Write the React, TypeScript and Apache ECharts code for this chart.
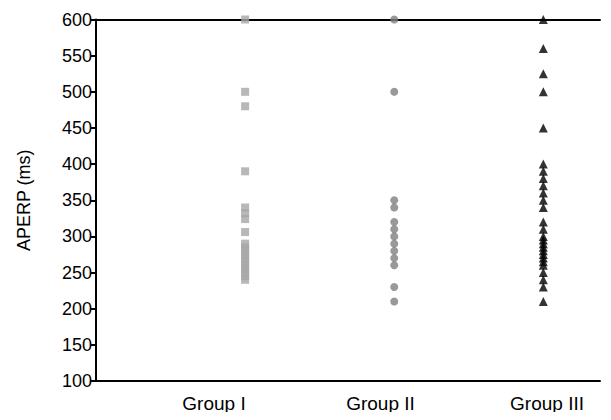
import React, { useEffect, useRef } from "react";
import * as echarts from "echarts";

const categories = ["Group I", "Group II", "Group III"];
const groupPositions = [1, 2, 3];
const groupI = [600, 500, 480, 390, 340, 332, 324, 306, 290, 285, 280, 275, 270, 265, 260, 255, 250, 245, 240];
const groupII = [600, 500, 350, 340, 320, 310, 300, 290, 280, 270, 260, 230, 210];
const groupIII = [600, 560, 525, 500, 450, 400, 390, 380, 370, 360, 350, 340, 320, 310, 300, 295, 290, 285, 280, 275, 270, 265, 260, 250, 240, 230, 210];
const yTicks = { min: 100, max: 600, interval: 50 };

const FONT = "'Liberation Sans', Arial, Helvetica, sans-serif";

export default function App() {
  const ref = useRef<HTMLDivElement>(null);
  useEffect(() => {
    if (!ref.current) return;
    const chart = echarts.init(ref.current, undefined, { renderer: "svg" });
    const lineStyle = { color: "#000", width: 2 };
    const mk = (vals: number[], x: number) => vals.map((v) => [x, v]);
    chart.setOption({
      animation: false,
      backgroundColor: "#fff",
      textStyle: { fontFamily: FONT },
      grid: [
        { left: 96, right: 11, top: 19.5, bottom: 39 },
        { left: 214, right: 64, top: 19.5, bottom: 39 },
      ],
      xAxis: [
        {
          type: "value", gridIndex: 0, position: "bottom", min: 0, max: 3.38,
          axisLine: { show: true, lineStyle }, axisTick: { show: false },
          axisLabel: { show: false }, splitLine: { show: false },
        },
        {
          type: "value", gridIndex: 0, position: "top", min: 0, max: 3.38,
          axisLine: { show: true, lineStyle }, axisTick: { show: false },
          axisLabel: { show: false }, splitLine: { show: false },
        },
        {
          type: "category", gridIndex: 1, data: categories, boundaryGap: false,
          axisLine: { show: false }, axisTick: { show: false },
          axisLabel: { color: "#000", fontSize: 19, fontFamily: FONT, margin: 13 },
          splitLine: { show: false },
        },
      ],
      yAxis: [
        {
          type: "value", gridIndex: 0, min: yTicks.min, max: yTicks.max, interval: yTicks.interval,
          name: "APERP (ms)", nameLocation: "middle", nameGap: 63,
          nameTextStyle: { color: "#000", fontSize: 18, fontFamily: FONT },
          axisLine: { show: true, lineStyle },
          axisTick: { show: true, length: 5, lineStyle },
          axisLabel: { color: "#000", fontSize: 18, fontFamily: FONT, margin: 4 },
          splitLine: { show: false },
        },
        { type: "value", gridIndex: 1, show: false, min: 0, max: 1 },
      ],
      series: [
        {
          type: "scatter", xAxisIndex: 0, yAxisIndex: 0, symbol: "rect", symbolSize: 8,
          itemStyle: { color: "#a6a6a6" }, data: mk(groupI, groupPositions[0]),
        },
        {
          type: "scatter", xAxisIndex: 0, yAxisIndex: 0, symbol: "circle", symbolSize: 8,
          itemStyle: { color: "#808080" }, data: mk(groupII, groupPositions[1]),
        },
        {
          type: "scatter", xAxisIndex: 0, yAxisIndex: 0, symbol: "triangle", symbolSize: 9,
          itemStyle: { color: "#000" }, data: mk(groupIII, groupPositions[2]),
        },
      ],
    });
    return () => chart.dispose();
  }, []);
  return <div ref={ref} style={{ width: 611, height: 420, margin: -8 }} />;
}
